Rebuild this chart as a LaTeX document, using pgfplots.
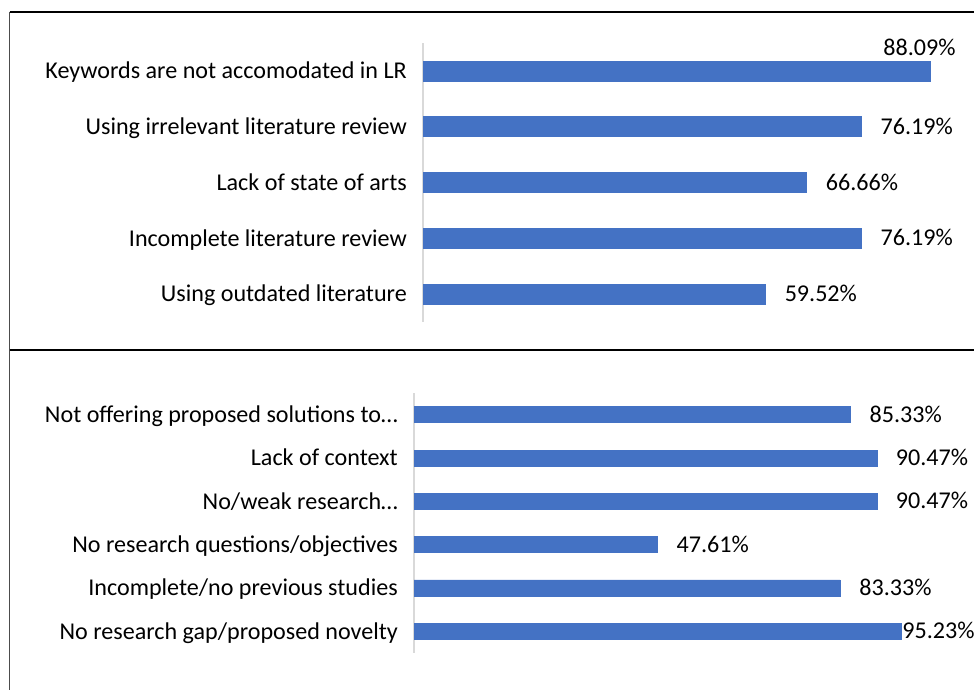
\documentclass[border=0pt]{standalone}
\usepackage{pgfplots}
\pgfplotsset{compat=1.18}
\usepackage{fontspec}
\setmainfont{Carlito}
\definecolor{barblue}{HTML}{4472C4}
\definecolor{axgray}{HTML}{D9D9D9}
\newcommand{\lbl}{\fontsize{24.1}{27}\selectfont}
\pgfplotsset{
  mybars/.style={
    xbar, bar shift=0pt, scale only axis, xmin=0,
    axis x line=none, axis y line*=left,
    y axis line style={draw=axgray, line width=1.3pt},
    major tick length=0pt,
    yticklabel style={font=\lbl, text=black, anchor=east, inner sep=0pt, xshift=-16pt, text height=15.5pt, text depth=0pt},
    point meta=explicit symbolic,
    every node near coord/.style={font=\lbl, text=black, inner sep=0pt, text height=15.3pt, text depth=0pt},
    clip=false,
  },
  valstyle/.style n args={4}{fill=barblue, draw=barblue, line width=0.4pt, bar width=#1,
    nodes near coords={\pgfplotspointmeta\%},
    nodes near coords style={anchor=#2, xshift=#3, yshift=#4}},
}
\begin{document}
\begin{tikzpicture}
% frame
\draw[black!70, line width=1.8pt] (9.5pt,0pt) -- (9.5pt,678pt);
\draw[black, line width=1.3pt] (9.5pt,678pt) -- (974pt,678pt);
\draw[black, line width=1.3pt] (9.5pt,340pt) -- (974pt,340pt);
% top chart
\begin{axis}[mybars, at={(423pt,368pt)}, anchor=south west,
  width=551pt, height=279pt, xmax=95.74, ymin=-0.5, ymax=4.5,
  ytick={0,1,2,3,4},
  yticklabels={Using outdated literature, Incomplete literature review, Lack of state of arts, Using irrelevant literature review, Keywords are not accomodated in LR}]
\addplot[valstyle={20pt}{west}{19pt}{0pt}] coordinates {(59.52,0)[59.52] (76.19,1)[76.19] (66.66,2)[66.66] (76.19,3)[76.19]};
\addplot[valstyle={20pt}{center}{-10.5pt}{23.5pt}] coordinates {(88.09,4)[88.09]};
\end{axis}
% bottom chart
\begin{axis}[mybars, at={(414pt,37pt)}, anchor=south west,
  width=560pt, height=260pt, xmax=109.48, ymin=-0.5, ymax=5.5,
  ytick={0,1,2,3,4,5},
  yticklabels={No research gap/proposed novelty, Incomplete/no previous studies, No research questions/objectives, No/weak research…, Lack of context, Not offering proposed solutions to…}]
\addplot[valstyle={16pt}{west}{19pt}{0pt}] coordinates {(83.33,1)[83.33] (47.61,2)[47.61] (90.47,3)[90.47] (90.47,4)[90.47] (85.33,5)[85.33]};
\addplot[valstyle={16pt}{west}{1pt}{0pt}] coordinates {(95.23,0)[95.23]};
\end{axis}
\pgfresetboundingbox
\path[use as bounding box] (0pt,0pt) rectangle (974pt,690pt);
\end{tikzpicture}
\end{document}
